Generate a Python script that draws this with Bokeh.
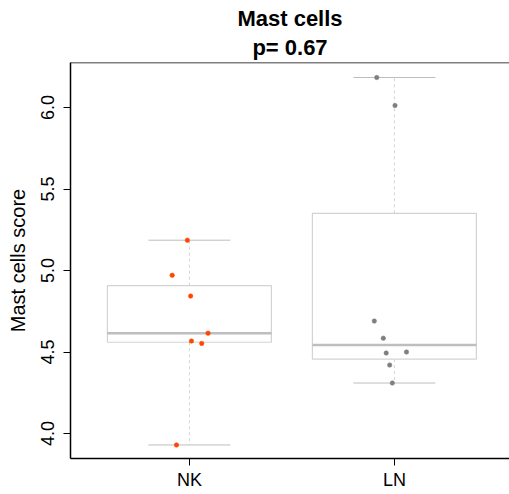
import math
from bokeh.plotting import figure
from bokeh.models import Range1d, FixedTicker, Span, Title, PrintfTickFormatter
from bokeh.embed import file_html
from bokeh.resources import INLINE

# Mast cell scores per group, with the horizontal jitter of each point
groups = ["NK", "LN"]
nk_scores = [5.186, 4.971, 4.843, 4.616, 4.567, 4.553, 3.930]
nk_jitter = [-0.010, -0.084, 0.006, 0.091, 0.010, 0.060, -0.063]
ln_scores = [6.184, 6.012, 4.690, 4.585, 4.494, 4.500, 4.420, 4.310]
ln_jitter = [-0.086, 0.003, -0.098, -0.054, -0.040, 0.059, -0.023, -0.010]
y_ticks = [4.0, 4.5, 5.0, 5.5, 6.0]
p_value = 0.67

FONT = "Liberation Sans"
BOX_COLOR = "#d3d3d3"
MEDIAN_COLOR = "#bebebe"


def fivenum(values):
    """Tukey five-number summary (min, lower hinge, median, upper hinge, max)."""
    x = sorted(values)
    n = len(x)
    n4 = math.floor((n + 3) / 2) / 2
    d = [1, n4, (n + 1) / 2, n + 1 - n4, n]
    return [0.5 * (x[math.floor(di) - 1] + x[math.ceil(di) - 1]) for di in d]


p = figure(
    width=509, height=494,
    x_range=Range1d(0.42, 2.5615), y_range=Range1d(3.847, 6.276),
    output_backend="svg", toolbar_location=None,
    min_border_left=70, min_border_right=0, min_border_top=62, min_border_bottom=36,
)
p.outline_line_color = None
p.grid.visible = False
p.background_fill_color = "white"

# two-line title
p.title.text = "Mast cells"
p.title.align = "center"
p.title.text_font = FONT
p.title.text_font_size = "22px"
p.title.text_font_style = "bold"
p.title.text_color = "black"
p.title.standoff = 0
p.add_layout(Title(text="p= %s" % p_value, align="center", text_font=FONT,
                   text_font_size="22px", text_font_style="bold",
                   text_color="black", standoff=5), "above")

# top border line of the plotting box
p.add_layout(Span(location=6.276, dimension="width", line_color="black", line_width=1.5))

series = [(nk_scores, nk_jitter, "#ff4500"), (ln_scores, ln_jitter, "#7f7f7f")]
for i, (scores, jitter, color) in enumerate(series):
    xc = i + 1
    lo, q1, med, q3, hi = fivenum(scores)
    # whiskers
    p.segment(x0=[xc, xc], y0=[q3, q1], x1=[xc, xc], y1=[hi, lo],
              line_color=BOX_COLOR, line_width=1, line_dash="3 3")
    # whisker caps
    p.segment(x0=[xc - 0.2, xc - 0.2], y0=[hi, lo], x1=[xc + 0.2, xc + 0.2], y1=[hi, lo],
              line_color=MEDIAN_COLOR, line_width=1)
    # box
    p.quad(left=[xc - 0.4], right=[xc + 0.4], bottom=[q1], top=[q3],
           fill_color=None, line_color=BOX_COLOR, line_width=1.2)
    # median
    p.segment(x0=[xc - 0.4], y0=[med], x1=[xc + 0.4], y1=[med],
              line_color=MEDIAN_COLOR, line_width=2.5)
    # jittered points
    p.scatter(x=[xc + j for j in jitter], y=scores, size=4.5,
              fill_color=color, line_color=color, line_width=0.5)

# x axis
p.xaxis.ticker = FixedTicker(ticks=[1, 2])
p.xaxis.major_label_overrides = {1: groups[0], 2: groups[1]}
# y axis
p.yaxis.ticker = FixedTicker(ticks=y_ticks)
p.yaxis.formatter = PrintfTickFormatter(format="%.1f")
p.yaxis.major_label_orientation = "vertical"
p.yaxis.axis_label = "Mast cells score"

for ax in (p.xaxis, p.yaxis):
    ax.minor_tick_line_color = None
    ax.major_tick_in = 0
    ax.major_tick_out = 7
    ax.major_tick_line_color = "black"
    ax.axis_line_color = "black"
    ax.axis_line_width = 1.5
    ax.major_label_text_font = FONT
    ax.major_label_text_font_size = "18px"
    ax.major_label_text_color = "black"
    ax.axis_label_text_font = FONT
    ax.axis_label_text_font_size = "20px"
    ax.axis_label_text_font_style = "normal"
    ax.axis_label_text_color = "black"

p.xaxis.major_label_standoff = 4
p.yaxis.major_label_standoff = 9
p.yaxis.axis_label_standoff = 10

open("out.html", "w").write(file_html(p, INLINE))
